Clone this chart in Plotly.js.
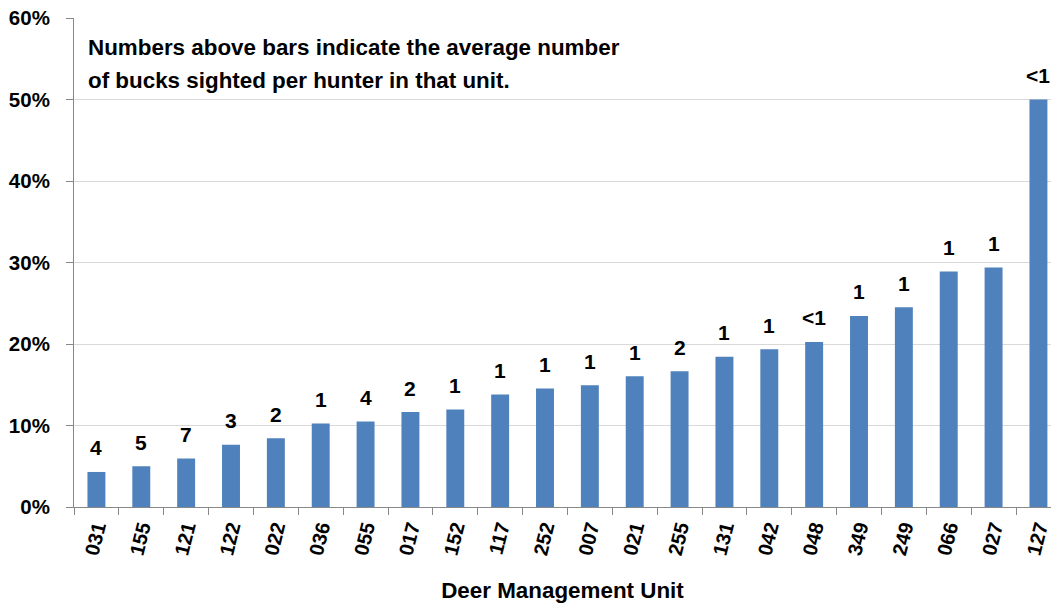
<!DOCTYPE html>
<html>
<head>
<meta charset="utf-8">
<script src="https://cdn.plot.ly/plotly-3.0.1.min.js"></script>
<style>html,body{margin:0;padding:0;background:#fff;}#chart{width:1051px;height:603px;}</style>
</head>
<body>
<div id="chart"></div>
<script>
const units = ['031','155','121','122','022','036','055','017','152','117','252','007','021','255','131','042','048','349','249','066','027','127'];
const pctValues = [4.3, 5.0, 5.95, 7.65, 8.45, 10.25, 10.5, 11.65, 11.95, 13.8, 14.55, 14.95, 16.05, 16.65, 18.45, 19.35, 20.25, 23.45, 24.5, 28.9, 29.4, 50.0];
const bucksLabels = ['4','5','7','3','2','1','4','2','1','1','1','1','1','2','1','1','<1','1','1','1','1','<1'];
const noteLines = ['Numbers above bars indicate the average number', 'of bucks sighted per hunter in that unit.'];
const yTickVals = [0,10,20,30,40,50,60];
const yTickText = yTickVals.map(v => v + '%');

const FONT = 'Liberation Sans, Arial, sans-serif';

const trace = {
  type: 'bar',
  x: units,
  y: pctValues,
  marker: {color: '#4F81BD', line: {width: 0}},
  width: 0.4,
  hoverinfo: 'x+y'
};

const annotations = units.map((u, i) => ({
  x: i, y: pctValues[i], xref: 'x', yref: 'y',
  text: '<b>' + bucksLabels[i].replace('<', '&lt;') + '</b>', showarrow: false,
  yanchor: 'middle', yshift: 24,
  font: {family: FONT, size: 21, color: '#000'}
}));
noteLines.forEach((t, i) => {
  annotations.push({
    xref: 'paper', yref: 'paper', x: 0.0125, y: [0.9403, 0.8722][i],
    xanchor: 'left', yanchor: 'middle', align: 'left', showarrow: false,
    text: '<b>' + t + '</b>',
    font: {family: FONT, size: 22.4, color: '#000'}
  });
});

const layout = {
  width: 1051, height: 603,
  margin: {l: 74, r: 0, t: 18, b: 96, pad: 0},
  paper_bgcolor: '#fff', plot_bgcolor: '#fff',
  showlegend: false,
  font: {family: FONT, color: '#000'},
  xaxis: {
    type: 'category',
    range: [-0.5, 21.28],
    tickangle: -76,
    tickfont: {family: FONT, size: 20, color: '#000', weight: 'bold'},
    ticks: 'outside', ticklen: 7, tickcolor: '#888', tickwidth: 1,
    tickson: 'boundaries',
    showline: true, linecolor: '#888', linewidth: 1,
    showgrid: false, zeroline: false,
    title: {text: '<b>Deer Management Unit</b>', font: {family: FONT, size: 22.4, color: '#000'}, standoff: 26}
  },
  yaxis: {
    range: [0, 60],
    tickmode: 'array',
    tickvals: yTickVals,
    ticktext: yTickText,
    tickfont: {family: FONT, size: 20.5, color: '#000', weight: 'bold'},
    ticks: 'outside', ticklen: 7, tickcolor: '#888', tickwidth: 1,
    ticklabelstandoff: 12,
    showline: true, linecolor: '#888', linewidth: 1,
    showgrid: true, gridcolor: '#d9d9d9', gridwidth: 1,
    zeroline: false
  },
  annotations: annotations
};

Plotly.newPlot('chart', [trace], layout, {displayModeBar: false, staticPlot: true});
</script>
</body>
</html>
